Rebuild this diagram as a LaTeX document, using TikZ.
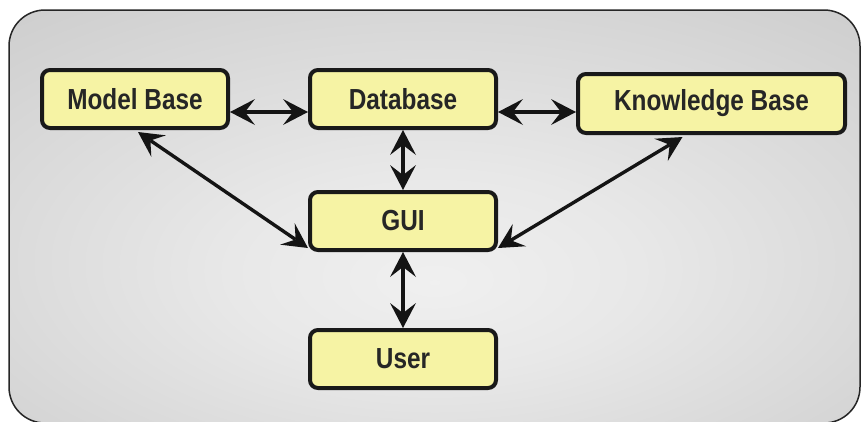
\documentclass[tikz,border=0pt]{standalone}
\usepackage{fontspec}
\usetikzlibrary{arrows.meta}
\newfontfamily\boxfont[FakeStretch=0.84]{Liberation Sans}

% soft grey backdrop, lighter towards the middle
\pgfdeclareradialshading{backdrop}{\pgfpoint{0bp}{-8bp}}{%
  color(0bp)=(black!6); color(12bp)=(black!9); color(40bp)=(black!20);
  color(55bp)=(black!25); color(75bp)=(black!27)}

\definecolor{boxfill}{RGB}{246,243,164}

\tikzset{
  modbox/.style={draw=black!90, line width=4pt, rounded corners=8pt,
    fill=boxfill, minimum height=58pt, inner sep=0pt,
    font=\boxfont\bfseries\fontsize{29}{30}\selectfont, text=black!85},
  twoway/.style={draw=black!92, line width=3.4pt,
    {Stealth[length=25pt,width=26pt,inset=10pt,line width=0pt]}-{Stealth[length=25pt,width=26pt,inset=10pt,line width=0pt]}}
}

\begin{document}
\begin{tikzpicture}[x=1pt,y=-1pt]
  \useasboundingbox (0,0) rectangle (863,421);
  \path[fill=white] (0,0) rectangle (863,421);
  \draw[line width=1.5pt, draw=black!85, rounded corners=36pt, shading=backdrop]
    (9,10) rectangle (860,423);

  \node[modbox, minimum width=186pt] (mb)   at (135,99)    {Model Base};
  \node[modbox, minimum width=186pt] (db)   at (403,99)    {Database};
  \node[modbox, minimum width=267pt, minimum height=59pt] (kb) at (711.5,103.5) {Knowledge Base};
  \node[modbox, minimum width=186pt] (gui)  at (403,221)   {GUI};
  \node[modbox, minimum width=186pt] (user) at (403,359)   {User};

  \draw[twoway] ([yshift=-13pt]mb.east) -- ([yshift=-13pt]db.west);
  \draw[twoway] ([yshift=-13pt]db.east) -- ([yshift=-8.5pt]kb.west);
  \draw[twoway] (db.south) -- (gui.north);
  \draw[twoway] (gui.south) -- (user.north);
  \draw[twoway] ([xshift=3pt,yshift=-2pt]mb.south) -- ([yshift=4pt]gui.south west);
  \draw[twoway] ([xshift=-29pt,yshift=-2pt]kb.south) -- ([yshift=4pt]gui.south east);
\end{tikzpicture}
\end{document}
